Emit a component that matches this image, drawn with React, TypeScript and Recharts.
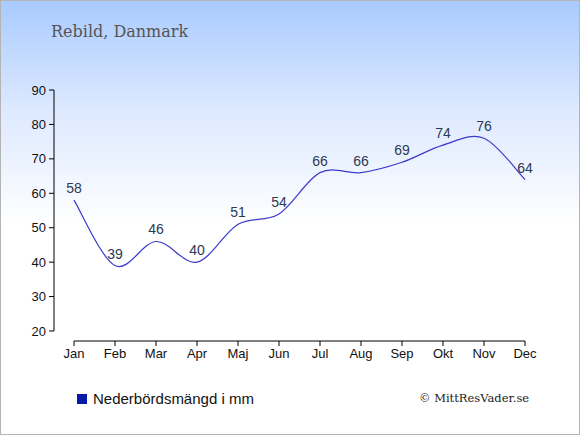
import React from 'react';
import { LineChart, Line, XAxis, YAxis, LabelList } from 'recharts';

const months = ['Jan', 'Feb', 'Mar', 'Apr', 'Maj', 'Jun', 'Jul', 'Aug', 'Sep', 'Okt', 'Nov', 'Dec'];
const rainfall = [58, 39, 46, 40, 51, 54, 66, 66, 69, 74, 76, 64];
const yTicks = [20, 30, 40, 50, 60, 70, 80, 90];

const chartData = months.map((m, i) => ({ month: m, rain: rainfall[i] }));

// catmull-rom style curve, closer to the original's smoothing than monotone
const smoothCurve = (context: any) => {
  let pts: Array<[number, number]> = [];
  return {
    areaStart() {},
    areaEnd() {},
    lineStart() {
      pts = [];
    },
    point(x: number, y: number) {
      pts.push([+x, +y]);
    },
    lineEnd() {
      if (!pts.length) return;
      context.moveTo(pts[0][0], pts[0][1]);
      for (let i = 0; i < pts.length - 1; i++) {
        const p0 = pts[i - 1] || pts[i];
        const p1 = pts[i];
        const p2 = pts[i + 1];
        const p3 = pts[i + 2] || p2;
        const k = 1 / 6;
        context.bezierCurveTo(
          p1[0] + (p2[0] - p0[0]) * k,
          p1[1] + (p2[1] - p0[1]) * k,
          p2[0] - (p3[0] - p1[0]) * k,
          p2[1] - (p3[1] - p1[1]) * k,
          p2[0],
          p2[1]
        );
      }
    },
  };
};

const tickFont = { fontSize: 13, fill: '#111', fontFamily: '"Liberation Sans", Arial, sans-serif' };

const App: React.FC = () => {
  return (
    <div
      style={{
        position: 'absolute',
        left: 0,
        top: 0,
        width: 580,
        height: 435,
        boxSizing: 'border-box',
        border: '1px solid #b4b4b4',
        background: 'linear-gradient(to bottom, #a9cbff 0%, #dde9ff 25%, #ffffff 52%, #ffffff 100%)',
        overflow: 'hidden',
      }}
    >
      <div
        style={{
          position: 'absolute',
          left: 50,
          top: 21,
          fontFamily: '"DejaVu Serif", serif',
          fontSize: 16,
          color: '#555555',
        }}
      >
        Rebild, Danmark
      </div>

      <div style={{ position: 'absolute', left: -1, top: -1 }}>
        <LineChart width={580} height={435} data={chartData} margin={{ top: 90, right: 55, left: 10, bottom: 64 }}>
          {/* spacer axes so the visible axes stand off the plot */}
          <XAxis xAxisId="gap" dataKey="month" height={10} tick={false} axisLine={false} tickLine={false} />
          <XAxis
            xAxisId="v"
            dataKey="month"
            height={30}
            interval={0}
            tick={tickFont}
            tickSize={5}
            tickMargin={3}
            axisLine={{ stroke: '#000' }}
            tickLine={{ stroke: '#000' }}
          />
          <YAxis yAxisId="gap" width={20} tick={false} axisLine={false} tickLine={false} />
          <YAxis
            yAxisId="v"
            domain={[20, 90]}
            ticks={yTicks}
            width={44}
            tick={tickFont}
            tickSize={5}
            tickMargin={3}
            axisLine={{ stroke: '#000' }}
            tickLine={{ stroke: '#000' }}
          />
          <Line
            xAxisId="v"
            yAxisId="v"
            type={smoothCurve as any}
            dataKey="rain"
            stroke="#3a3acc"
            strokeWidth={1.2}
            dot={false}
            isAnimationActive={false}
          >
            <LabelList
              dataKey="rain"
              position="top"
              offset={7}
              style={{ fontSize: 14, fill: '#2b3a55', fontFamily: '"Liberation Sans", Arial, sans-serif' }}
            />
          </Line>
        </LineChart>
      </div>

      <div
        style={{
          position: 'absolute',
          left: 76,
          top: 389,
          display: 'flex',
          alignItems: 'center',
          fontFamily: '"Liberation Sans", Arial, sans-serif',
          fontSize: 15,
          color: '#111',
        }}
      >
        <div style={{ width: 10, height: 10, background: '#0a1aa8', marginRight: 6 }} />
        <span>Nederbördsmängd i mm</span>
      </div>

      <div
        style={{
          position: 'absolute',
          left: 418,
          top: 390,
          fontFamily: '"DejaVu Serif", serif',
          fontSize: 11.5,
          color: '#222',
        }}
      >
        © MittResVader.se
      </div>
    </div>
  );
};

export default App;
